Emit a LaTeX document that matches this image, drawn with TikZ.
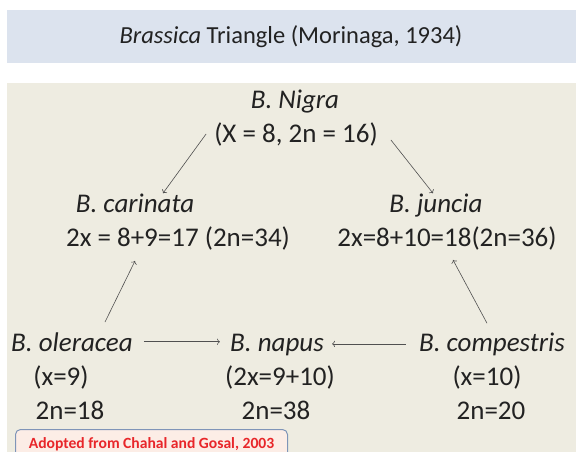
\documentclass[tikz,border=0pt]{standalone}
\usepackage{fontspec}
\setmainfont{Carlito}
\usetikzlibrary{positioning, arrows.meta, calc}

\definecolor{headblue}{HTML}{DCE3EE}
\definecolor{panelbeige}{HTML}{EEECE1}
\definecolor{arrowgray}{HTML}{505050}
\definecolor{textdark}{HTML}{222222}
\definecolor{notered}{HTML}{E8262A}
\definecolor{noteedge}{HTML}{7F95B8}
\definecolor{notefill}{HTML}{FCEDE6}

\begin{document}
\begin{tikzpicture}[x=1pt, y=-1pt,
  species/.style={font=\fontsize{27}{32}\selectfont\itshape, text=textdark, inner sep=0pt, anchor=base},
  count/.style={font=\fontsize{27}{32}\selectfont, text=textdark, inner sep=0pt, anchor=base},
  arr/.style={->, arrowgray, line width=0.6pt}]
	% page and panels
	\useasboundingbox (0,0) rectangle (576,452);
	\fill[white] (0,0) rectangle (576,452);
	\fill[headblue] (7,10) rectangle (576,63);
	\fill[panelbeige] (7,83) rectangle (576,452);
	\node[font=\fontsize{24.5}{29}\selectfont, text=textdark] (title) at (291,37) {\textit{Brassica} Triangle (Morinaga, 1934)};

	% top of the triangle
	\node[species] (nigname) at (295,108) {B. Nigra};
	\node[count] (nigval) at (296,142) {(X = 8, 2n = 16)};

	% middle row
	\node[species] (carname) at (135,212) {B. carinata};
	\node[count] (carval) at (178,246) {2x = 8+9=17 (2n=34)};
	\node[species] (juncname) at (436,212) {B. juncia};
	\node[count] (juncval) at (447,246) {2x=8+10=18(2n=36)};

	% bottom row
	\node[species] (olename) at (72,351) {B. oleracea};
	\node[count] (oleval) at (61,385) {(x=9)};
	\node[count] (olechr) at (70,419) {2n=18};
	\node[species] (napname) at (277,351) {B. napus};
	\node[count] (napval) at (280,385) {(2x=9+10)};
	\node[count] (napchr) at (276,419) {2n=38};
	\node[species] (compname) at (492,351) {B. compestris};
	\node[count] (compval) at (487,385) {(x=10)};
	\node[count] (compchr) at (491,419) {2n=20};

	% arrows
	\draw[arr] ([xshift=-8]nigval.west) -- ([xshift=28]carname.north);
	\draw[arr] ([shift={(13,6)}]nigval.east) -- ([xshift=-3]juncname.north);
	\draw[arr] ([shift={(33,-10)}]olename.north) -- ([shift={(-43,11)}]carval.south);
	\draw[arr] ([shift={(-5,-9)}]compname.north) -- ([shift={(6,10)}]juncval.south);
	\draw[arr, shorten <=11pt, shorten >=10pt] (olename.east) -- (olename.east -| napname.west);
	\draw[arr, shorten <=13pt, shorten >=8pt] (compname.west) -- (compname.west -| napname.east);

	% source note
	\node[draw=noteedge, line width=1pt, fill=notefill, rounded corners=5pt, minimum width=272, minimum height=30, anchor=north west, font=\fontsize{15.6}{18}\selectfont\bfseries, text=notered] (note) at (15,429) {Adopted from Chahal and Gosal, 2003};
\end{tikzpicture}
\end{document}
